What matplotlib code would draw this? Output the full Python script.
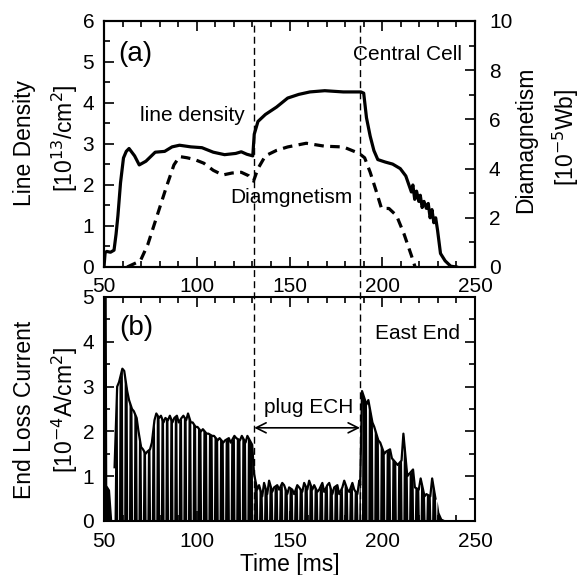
import matplotlib
matplotlib.use("Agg")
import matplotlib.pyplot as plt
from matplotlib.lines import Line2D
from matplotlib.ticker import MultipleLocator

plt.rcParams['font.family'] = ['Liberation Sans', 'DejaVu Sans']

# (a) line density [10^13/cm^2]
dens_t = [50.0, 50.6, 51.5, 53.5, 55.4, 56.5, 57.5, 58.9, 60.5, 62.0, 63.5, 66.5, 69.0,
          72.6, 77.6, 82.7, 86.7, 90.7, 96.8, 102.8, 108.9, 115.0, 121.0, 124.0,
          127.0, 130.2, 131.0, 133.0, 137.0, 143.0, 149.0, 155.0, 161.0, 169.0,
          179.0, 188.5, 190.0, 191.5, 193.5, 195.5, 197.6, 201.6, 205.6, 209.7,
          212.7, 214.0, 215.7, 216.5, 217.5, 218.5, 219.7, 220.5, 221.5, 222.5,
          223.8, 224.8, 225.8, 226.8, 227.8, 228.8, 229.8, 231.4, 233.9, 236.9, 240.0]
dens_v = [0.0, 0.35, 0.38, 0.36, 0.41, 0.8, 1.25, 2.05, 2.66, 2.82, 2.89, 2.71, 2.49,
          2.58, 2.8, 2.82, 2.93, 2.97, 2.93, 2.91, 2.8, 2.74, 2.77, 2.81,
          2.75, 2.71, 3.24, 3.55, 3.72, 3.9, 4.12, 4.21, 4.27, 4.3,
          4.27, 4.27, 4.24, 3.64, 3.19, 2.84, 2.62, 2.56, 2.51, 2.4,
          2.22, 2.05, 1.83, 2.0, 1.65, 1.85, 1.6, 1.75, 1.45, 1.6,
          1.43, 1.55, 1.2, 1.4, 1.08, 1.2, 0.9, 0.33, 0.15, 0.02, 0.0]

# (a) diamagnetism [10^-5 Wb], right axis
dia_t = [62.5, 69.6, 73.6, 78.6, 83.7, 87.7, 90.7, 94.8, 98.8, 103.8, 108.9, 114.0,
         119.0, 124.0, 128.0, 130.6, 133.0, 137.0, 143.0, 149.0, 159.0, 169.0, 179.0,
         187.5, 190.5, 193.5, 196.6, 199.6, 203.6, 207.7, 211.7, 215.7, 217.7]
dia_v = [0.0, 0.25, 0.91, 2.08, 3.27, 4.15, 4.49, 4.44, 4.37, 4.22, 3.93, 3.74,
         3.82, 3.85, 3.71, 3.49, 4.0, 4.52, 4.74, 4.88, 5.03, 4.91, 4.88,
         4.62, 4.44, 3.85, 3.12, 2.38, 2.38, 2.09, 1.35, 0.47, 0.0]

# (b) end loss current [10^-4 A/cm^2]: modulation dips and tooth heights
start_t = [50.0, 50.3, 51.2, 51.5, 53.0, 54.2]
start_v = [0.0, 5.3, 5.3, 0.8, 0.7, 0.0]
dips = [55.2, 57.6, 60.4, 63.0, 65.6, 68.1, 70.5, 72.9, 75.3, 77.7, 80.2, 82.6, 85.0,
        87.4, 89.8, 92.3, 94.8, 97.3, 99.9, 102.8, 105.8, 108.8, 111.8, 114.8, 117.8,
        120.8, 123.8, 126.8, 130.4,
        133.1, 135.8, 138.5, 141.2, 143.9, 146.6, 149.3, 152.0, 154.7, 157.4, 160.1,
        162.8, 165.5, 168.2, 170.9, 173.6, 176.3, 179.0, 181.7, 184.4, 187.1, 188.6,
        192.0, 195.2, 198.4, 201.6, 204.7, 207.8, 210.9, 214.0, 217.1, 220.2, 223.3,
        226.4, 229.2]
tooth_left = [1.2, 3.1, 3.35, 2.7, 2.45, 2.0, 1.6, 1.55, 1.75, 2.4, 2.35, 2.3, 2.35, 2.3,
              2.2, 2.35, 2.4, 2.2, 2.1, 2.05, 1.95, 1.9, 1.85, 1.8, 1.75, 1.85, 1.9, 1.9,
              1.05, 0.8, 0.85, 0.9, 0.75, 0.7, 0.8, 0.75, 0.6, 0.75, 0.85, 0.9, 0.8, 0.7,
              0.65, 0.85, 0.75, 0.6, 0.9, 0.65, 0.7, 0.9,
              2.9, 2.7, 2.1, 1.75, 1.55, 1.4, 1.25, 1.95, 1.05, 0.75, 0.95, 0.6, 0.95]
tooth_right = [3.0, 3.4, 2.9, 2.5, 2.3, 1.65, 1.5, 1.6, 2.25, 2.3, 2.2, 2.25, 2.2, 2.35,
               2.3, 2.25, 2.2, 2.1, 2.0, 1.95, 1.9, 1.8, 1.75, 1.85, 1.9, 1.8, 1.75, 1.7,
               0.7, 0.55, 0.6, 0.65, 0.8, 0.85, 0.6, 0.7, 0.8, 0.65, 0.7, 0.7, 0.65, 0.85,
               0.8, 0.6, 0.8, 0.75, 0.7, 0.85, 0.6, 0.8,
               2.6, 2.2, 1.8, 1.5, 1.6, 1.3, 1.35, 1.0, 1.15, 0.7, 0.55, 0.55, 0.5]
end_t = [229.6, 230.5, 232.0, 235.0, 250.0]
end_v = [0.45, 0.2, 0.06, 0.0, 0.0]

# each dip is a narrow white slit between two teeth
cur_t = list(start_t)
cur_v = list(start_v)
top_t, top_v = [], []
for k in range(len(dips) - 1):
    a, b = dips[k], dips[k + 1]
    cur_t += [a - 0.2, a + 0.2, a + 0.5, b - 0.5]
    cur_v += [0.0, 0.0, tooth_left[k], tooth_right[k]]
    top_t += [a + 0.5, b - 0.5]
    top_v += [tooth_left[k], tooth_right[k]]
cur_t += [dips[-1] - 0.2, dips[-1] + 0.1] + end_t
cur_v += [0.0, 0.0] + end_v

W, H = 583, 575
fig = plt.figure(figsize=(W / 100, H / 100), dpi=100)
L, R = 104, 475
ax1 = fig.add_axes([L / W, 1 - 267 / H, (R - L) / W, (267 - 21) / H])
ax3 = fig.add_axes([L / W, 1 - 521 / H, (R - L) / W, (521 - 297) / H])
ax2 = ax1.twinx()

ax1.plot(dens_t, dens_v, color='black', lw=2.3, solid_joinstyle='round')
ax2.plot(dia_t, dia_v, color='black', lw=2.3, dashes=(3, 2))
ax3.fill_between(cur_t, cur_v, 0, color='black', lw=0)
ax3.plot(top_t, top_v, color='black', lw=1.6)

ax1.set_xlim(50, 250)
ax1.set_ylim(0, 6)
ax2.set_ylim(0, 10)
ax3.set_xlim(50, 250)
ax3.set_ylim(0, 5)

tfs = 15
for ax in (ax1, ax2, ax3):
    for s in ax.spines.values():
        s.set_linewidth(1.5)
    ax.tick_params(which='both', direction='in', width=1.2, labelsize=tfs)
    ax.tick_params(which='major', length=7)
    ax.tick_params(which='minor', length=4)
    ax.xaxis.set_major_locator(MultipleLocator(50))
    ax.xaxis.set_minor_locator(MultipleLocator(10))
ax1.tick_params(which='both', top=True, right=False)
ax2.tick_params(which='both', top=True, left=False)
ax3.tick_params(which='both', top=True, right=True)
ax1.yaxis.set_major_locator(MultipleLocator(1))
ax1.yaxis.set_minor_locator(MultipleLocator(0.5))
ax2.yaxis.set_major_locator(MultipleLocator(2))
ax2.yaxis.set_minor_locator(MultipleLocator(1))
ax3.yaxis.set_major_locator(MultipleLocator(1))
ax3.yaxis.set_minor_locator(MultipleLocator(0.5))
ax1.tick_params(axis='y', pad=7)
ax3.tick_params(axis='y', pad=7)
ax2.tick_params(axis='y', pad=10)
ax1.tick_params(axis='x', pad=7)
ax3.tick_params(axis='x', pad=8)

lfs = 16.5
fig.text(25 / W, 1 - 143 / H, 'Line Density', rotation=90, ha='center', va='center', fontsize=lfs)
fig.text(65 / W, 1 - 138 / H, r'[10$^{13}$/cm$^{2}$]', rotation=90, ha='center', va='center', fontsize=lfs)
fig.text(526 / W, 1 - 140 / H, 'Diamagnetism', rotation=90, ha='center', va='center', fontsize=lfs)
fig.text(566 / W, 1 - 137 / H, r'[10$^{-5}$Wb]', rotation=90, ha='center', va='center', fontsize=lfs)
fig.text(25 / W, 1 - 410 / H, 'End Loss Current', rotation=90, ha='center', va='center', fontsize=lfs)
fig.text(65 / W, 1 - 410 / H, r'[10$^{-4}$A/cm$^{2}$]', rotation=90, ha='center', va='center', fontsize=lfs)
ax3.set_xlabel('Time [ms]', fontsize=lfs, labelpad=1)

ax1.text(66.7, 5.19, '(a)', fontsize=20, ha='center', va='center')
ax1.text(213.4, 5.19, 'Central Cell', fontsize=15, ha='center', va='center')
ax1.text(97.8, 3.69, 'line density', fontsize=15, ha='center', va='center')
ax1.text(151, 1.70, 'Diamgnetism', fontsize=15, ha='center', va='center')
ax3.text(67.3, 4.31, '(b)', fontsize=20, ha='center', va='center')
ax3.text(219.2, 4.19, 'East End', fontsize=15, ha='center', va='center')
ax3.text(160.3, 2.54, 'plug ECH', fontsize=15, ha='center', va='center')
ax3.annotate('', xy=(131, 2.08), xytext=(188, 2.08),
             arrowprops=dict(arrowstyle='<->', lw=1.2, color='black', mutation_scale=18,
                             shrinkA=0, shrinkB=0))

# dashed markers spanning both panels
fig.canvas.draw()
for xv in (131, 188):
    xf = fig.transFigure.inverted().transform(ax1.transData.transform((xv, 0)))[0]
    fig.add_artist(Line2D([xf, xf], [1 - 521 / H, 1 - 21 / H], transform=fig.transFigure,
                          color='black', lw=1.0, dashes=(5, 3)))

fig.savefig('out.png', dpi=100)
